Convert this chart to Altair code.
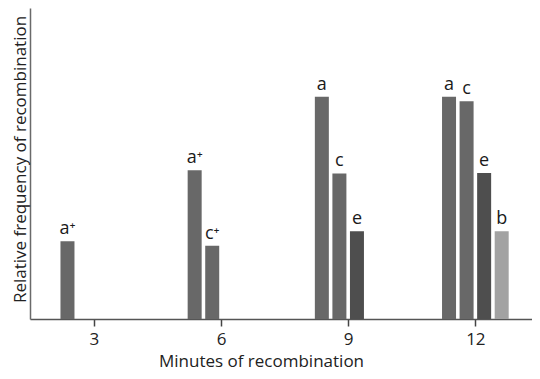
import altair as alt
import pandas as pd

# Data
minutes = [3, 6, 6, 9, 9, 9, 12, 12, 12, 12]
slots = [0, 0, 1, 0, 1, 2, 0, 1, 2, 3]          # order of the bar inside its group
genes = ["a⁺", "a⁺", "c⁺", "a", "c", "e", "a", "c", "e", "b"]
freqs = [35, 67, 33, 100, 65.5, 39.5, 100, 98, 65.7, 39.5]
tick_values = [3, 6, 9, 12]

df = pd.DataFrame({"minute": minutes, "slot": slots, "gene": genes, "freq": freqs})

gene_domain = ["a⁺", "c⁺", "a", "c", "e", "b"]
gene_colors = ["#686868", "#686868", "#686868", "#686868", "#4e4e4e", "#a2a2a2"]

base = alt.Chart(df).transform_calculate(
    pos="datum.minute + (datum.slot - 1.5) * 0.414"
)

x_enc = alt.X(
    "pos:Q",
    scale=alt.Scale(domain=[1.613, 13.218], nice=False, zero=False),
    axis=alt.Axis(
        values=tick_values,
        grid=False,
        domainColor="#555555",
        domainWidth=1.5,
        tickColor="#444444",
        tickWidth=1.5,
        tickSize=7,
        labelFontSize=17,
        labelColor="#222222",
        labelPadding=5,
        title="Minutes of recombination",
        titleFontSize=17,
        titleFontWeight="normal",
        titleColor="#222222",
        titleX=231,
        titleY=42,
        titleAlign="center",
        titleBaseline="middle",
    ),
)

y_enc = alt.Y(
    "freq:Q",
    scale=alt.Scale(domain=[0, 140], nice=False),
    axis=alt.Axis(
        grid=False,
        ticks=False,
        labels=False,
        domainColor="#6a6a6a",
        domainWidth=1.5,
        title="Relative frequency of recombination",
        titleFontSize=17,
        titleFontWeight="normal",
        titleColor="#222222",
        titleX=-10,
        titleY=151,
        titleAngle=270,
        titleAlign="center",
        titleBaseline="middle",
    ),
)

bars = base.mark_bar(size=14).encode(
    x=x_enc,
    y=y_enc,
    color=alt.Color("gene:N", scale=alt.Scale(domain=gene_domain, range=gene_colors), legend=None),
)

labels = base.mark_text(baseline="bottom", dy=-3, fontSize=18, color="#1a1a1a").encode(
    x="pos:Q",
    y="freq:Q",
    text="gene:N",
)

chart = (
    alt.layer(bars, labels)
    .properties(
        width=502,
        height=311,
        autosize=alt.AutoSizeParams(type="none"),
        padding={"left": 22, "top": 0, "right": 0, "bottom": 52},
    )
    .configure(font="Open Sans")
    .configure_view(stroke=None)
)

chart.save("out.html", embed_options={"renderer": "svg", "actions": False})
